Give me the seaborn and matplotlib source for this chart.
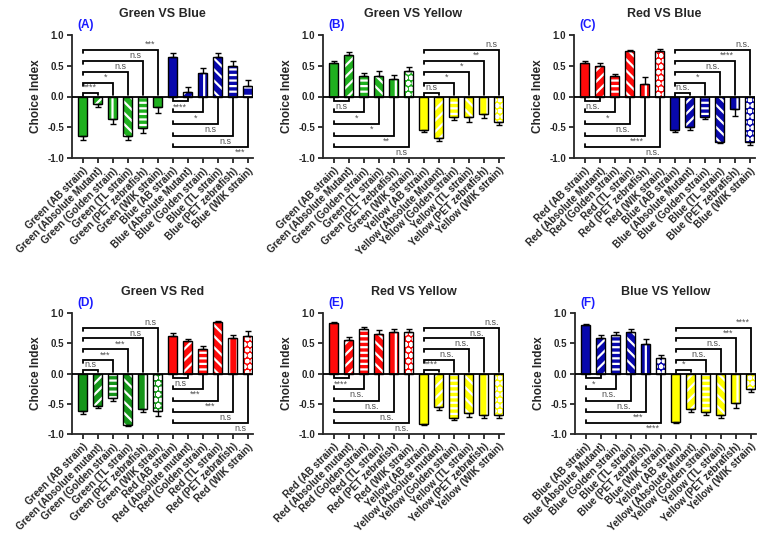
import seaborn as sns
import matplotlib.pyplot as plt
import numpy as np
import pandas as pd
from matplotlib.patches import Rectangle

# strain names as printed under the bars
strains = ["AB strain", "Absolute Mutant", "Golden strain", "TL strain", "PET zebrafish", "WIK strain"]
strains_lower = ["AB strain", "Absolute mutant", "Golden strain", "TL strain", "PET zebrafish", "WIK strain"]

# (A) Green VS Blue
a_groups = ["Green", "Blue"]
a_values = [-0.65, -0.12, -0.37, -0.65, -0.52, -0.17, 0.65, 0.08, 0.38, 0.65, 0.50, 0.17]
a_errors = [0.05, 0.05, 0.07, 0.05, 0.07, 0.10, 0.05, 0.07, 0.08, 0.05, 0.07, 0.10]
a_sig_first = ["****", "*", "n.s", "n.s", "***"]
a_sig_second = ["****", "*", "n.s", "n.s", "***"]

# (B) Green VS Yellow
b_groups = ["Green", "Yellow"]
b_values = [0.55, 0.68, 0.33, 0.33, 0.28, 0.42, -0.55, -0.67, -0.33, -0.33, -0.28, -0.42]
b_errors = [0.03, 0.04, 0.05, 0.08, 0.07, 0.06, 0.03, 0.05, 0.05, 0.08, 0.07, 0.05]
b_sig_first = ["n.s", "*", "*", "**", "n.s"]
b_sig_second = ["n.s", "*", "*", "**", "n.s"]

# (C) Red VS Blue
c_groups = ["Red", "Blue"]
c_values = [0.55, 0.49, 0.33, 0.74, 0.21, 0.74, -0.55, -0.49, -0.33, -0.74, -0.21, -0.74]
c_errors = [0.02, 0.06, 0.04, 0.02, 0.10, 0.04, 0.02, 0.06, 0.04, 0.02, 0.10, 0.05]
c_sig_first = ["n.s.", "*", "n.s.", "****", "n.s."]
c_sig_second = ["n.s.", "*", "n.s.", "****", "n.s."]

# (D) Green VS Red
d_groups = ["Green", "Red"]
d_values = [-0.62, -0.53, -0.41, -0.85, -0.59, -0.62, 0.62, 0.53, 0.41, 0.85, 0.59, 0.62]
d_errors = [0.05, 0.04, 0.05, 0.02, 0.05, 0.08, 0.05, 0.04, 0.05, 0.02, 0.05, 0.08]
d_sig_first = ["n.s", "***", "***", "n.s", "n.s"]
d_sig_second = ["n.s", "***", "***", "n.s", "n.s"]

# (E) Red VS Yellow
e_groups = ["Red", "Yellow"]
e_values = [0.83, 0.56, 0.74, 0.66, 0.68, 0.68, -0.83, -0.56, -0.74, -0.66, -0.68, -0.68]
e_errors = [0.02, 0.04, 0.03, 0.06, 0.05, 0.05, 0.02, 0.04, 0.03, 0.06, 0.05, 0.05]
e_sig_first = ["****", "n.s.", "n.s.", "n.s.", "n.s."]
e_sig_second = ["****", "n.s.", "n.s.", "n.s.", "n.s."]

# (F) Blue VS Yellow
f_groups = ["Blue", "Yellow"]
f_values = [0.80, 0.58, 0.64, 0.68, 0.49, 0.25, -0.80, -0.58, -0.64, -0.68, -0.49, -0.25]
f_errors = [0.02, 0.05, 0.04, 0.05, 0.08, 0.06, 0.02, 0.05, 0.04, 0.05, 0.08, 0.06]
f_sig_first = ["*", "n.s.", "n.s.", "***", "****"]
f_sig_second = ["*", "n.s.", "n.s.", "***", "****"]

colors = {"Green": "#1fb01f", "Blue": "#0808ad", "Red": "#ff0a0a", "Yellow": "#ffff00"}
dark_green = "#15951a"  # panel D uses a deeper green
hatches_std = [None, "///", "---", "\\\\\\", "||", "ooo"]
hatches_a1 = [None, "///", "||", "\\\\\\", "---", None]
hatches_a2 = [None, "///", "||", "\\\\\\", "---", "--"]

pos_levels = [0.06, 0.22, 0.40, 0.58, 0.76]
neg_levels = [-0.08, -0.26, -0.45, -0.64, -0.82]

sns.set_style("ticks")
plt.rcParams["font.family"] = ["Liberation Sans", "DejaVu Sans"]
plt.rcParams["hatch.linewidth"] = 1.6


def brackets(ax, base, values, labels):
    # bars below zero -> brackets drawn above the zero line, and vice versa
    up = values[base] < 0
    levels = pos_levels if up else neg_levels
    s = 1 if up else -1
    for k, (lev, lab) in enumerate(zip(levels, labels), start=1):
        j = base + k
        ax.plot([base, base, j, j], [lev - s * 0.05, lev, lev, s * 0.025],
                color="black", lw=1.3, solid_joinstyle="miter", zorder=4)
        ax.text(j - 0.5, lev + s * 0.015, lab, ha="center",
                va="bottom" if up else "top", fontsize=6.5, color="#505050")


def draw_panel(ax, tag, groups, values, errors, sig1, sig2, lower=False, h1=None, h2=None,
               cmap=None):
    cmap = cmap or colors
    names_src = strains_lower if lower else strains
    names = [f"{g} ({s})" for g in groups for s in names_src]
    bar_colors = [cmap[g] for g in groups for _ in names_src]
    hatches = (h1 or hatches_std) + (h2 or hatches_std)
    df = pd.DataFrame({"name": names, "value": values})
    sns.barplot(data=df, x="name", y="value", hue="name", palette=dict(zip(names, bar_colors)),
                legend=False, width=0.6, saturation=1, errorbar=None, ax=ax, zorder=2)
    bars = sorted(ax.patches, key=lambda p: p.get_x())
    for p, h in zip(bars, hatches):
        p.set_linewidth(0)
        if h:
            p.set_hatch(h)
            p.set_edgecolor("white")
        ax.add_patch(Rectangle(p.get_xy(), p.get_width(), p.get_height(), fill=False,
                               edgecolor="black", lw=1.0, zorder=3))
    vals = np.array(values)
    errs = np.array(errors)
    yerr = [np.where(vals < 0, errs, 0), np.where(vals > 0, errs, 0)]
    ax.errorbar(np.arange(len(vals)), vals, yerr=yerr, fmt="none", ecolor="black",
                elinewidth=1.0, capsize=2.5, capthick=1.0, zorder=3)
    ax.axhline(0, color="black", lw=1.3, zorder=3)
    brackets(ax, 0, values, sig1)
    brackets(ax, 6, values, sig2)

    ax.set_xlim(-0.72, 11.35)
    ax.set_ylim(-1.0, 1.0)
    ax.set_yticks([-1.0, -0.5, 0.0, 0.5, 1.0])
    ax.set_yticklabels(["-1.0", "-0.5", "0.0", "0.5", "1.0"])
    ax.set_xlabel("")
    ax.set_ylabel("Choice Index", fontsize=8.5, fontweight="bold")
    ax.yaxis.set_label_coords(-0.165, 0.5)
    ax.set_xticks(range(12))
    ax.set_xticklabels(names, rotation=45, ha="right", rotation_mode="anchor",
                       fontsize=7.2, fontweight="bold")
    for t in ax.get_yticklabels():
        t.set_fontweight("bold")
        t.set_fontsize(7)
    ax.tick_params(width=1.3, length=3.5, pad=2)
    for sp in ["left", "bottom"]:
        ax.spines[sp].set_linewidth(1.3)
    sns.despine(ax=ax)
    ax.set_title(f"{groups[0]} VS {groups[1]}", fontsize=9, fontweight="bold", pad=13)
    ax.text(0.03, 1.035, tag, transform=ax.transAxes, fontsize=8.5, fontweight="bold",
            color="#1a1aff", va="bottom")


fig = plt.figure(figsize=(7.66, 5.45), dpi=100)
W, H = 766, 545
top_row = (H - 158) / H
bot_row = (H - 434) / H
axA = fig.add_axes([72 / W, top_row, 181 / W, 123 / H])
axB = fig.add_axes([323 / W, top_row, 181 / W, 123 / H])
axC = fig.add_axes([574 / W, top_row, 181 / W, 123 / H])
axD = fig.add_axes([72 / W, bot_row, 181 / W, 121 / H])
axE = fig.add_axes([323 / W, bot_row, 181 / W, 121 / H])
axF = fig.add_axes([575 / W, bot_row, 181 / W, 121 / H])

draw_panel(axA, "(A)", a_groups, a_values, a_errors, a_sig_first, a_sig_second,
           h1=hatches_a1, h2=hatches_a2)
draw_panel(axB, "(B)", b_groups, b_values, b_errors, b_sig_first, b_sig_second)
draw_panel(axC, "(C)", c_groups, c_values, c_errors, c_sig_first, c_sig_second)
draw_panel(axD, "(D)", d_groups, d_values, d_errors, d_sig_first, d_sig_second, lower=True,
           cmap={**colors, "Green": dark_green})
draw_panel(axE, "(E)", e_groups, e_values, e_errors, e_sig_first, e_sig_second, lower=True)
draw_panel(axF, "(F)", f_groups, f_values, f_errors, f_sig_first, f_sig_second)

fig.savefig("out.png", dpi=100)
